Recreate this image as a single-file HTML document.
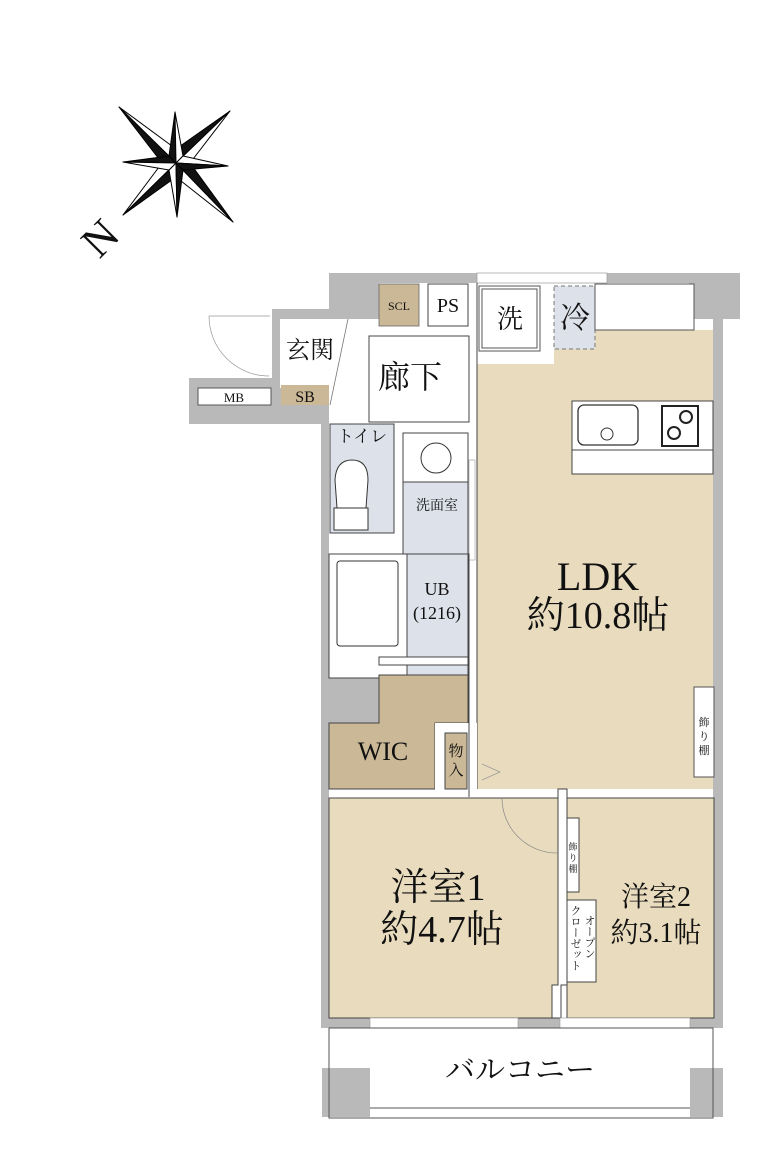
<!DOCTYPE html>
<html><head><meta charset="utf-8"><style>
html,body{margin:0;padding:0;background:#fff}
svg{display:block}
text{font-family:"Liberation Serif","Noto Serif CJK SC",serif;fill:#111}
</style></head><body>
<svg width="770" height="1167" viewBox="0 0 770 1167" xmlns="http://www.w3.org/2000/svg">
<!-- compass -->
<g stroke="#000" stroke-width="1" stroke-linejoin="round">
<polygon points="176,163 119,107 176,149" fill="#fff"/><polygon points="176,163 119,107 162,163" fill="#111"/>
<polygon points="176,163 230,111 176,149" fill="#111"/><polygon points="176,163 230,111 190,163" fill="#fff"/>
<polygon points="176,163 123,215 162,163" fill="#fff"/><polygon points="176,163 123,215 176,177" fill="#111"/>
<polygon points="176,163 233,222 190,163" fill="#111"/><polygon points="176,163 233,222 176,177" fill="#fff"/>
<polygon points="176,163 175,112 169,156" fill="#111"/><polygon points="176,163 175,112 183,156" fill="#fff"/>
<polygon points="176,163 177,217 169,170" fill="#fff"/><polygon points="176,163 177,217 183,170" fill="#111"/>
<polygon points="176,163 123,162 169,156" fill="#111"/><polygon points="176,163 123,162 169,170" fill="#fff"/>
<polygon points="176,163 228,166 183,156" fill="#fff"/><polygon points="176,163 228,166 183,170" fill="#111"/>
</g>
<text x="102" y="252" font-size="44" transform="rotate(-45 102 240)" text-anchor="middle">N</text>

<!-- walls gray -->
<g fill="#b9b9b9">
<rect x="329" y="273" width="411" height="10"/>
<rect x="689" y="273" width="51" height="46"/>
<rect x="713" y="273" width="10" height="755"/>
<rect x="272" y="309" width="57" height="10"/>
<rect x="272" y="309" width="8" height="80"/>
<rect x="189" y="378" width="91" height="46"/>
<rect x="280" y="388" width="49" height="36"/>
<rect x="321" y="388" width="8" height="640"/>
<rect x="322" y="655" width="57" height="68"/>
<rect x="322" y="1018" width="401" height="10"/>
<rect x="322" y="1068" width="48" height="49"/>
<rect x="690" y="1068" width="33" height="49"/>
<rect x="329" y="283" width="50" height="36"/>
</g>
<!-- LDK floor -->
<rect x="477" y="330" width="236" height="459" fill="#e9dcbe"/>
<polygon points="477,283 595,283 595,349 554,349 554,364 477,364" fill="#fff"/>
<!-- top window -->
<rect x="477" y="273" width="130" height="10" fill="#fff" stroke="#999" stroke-width="0.7"/>
<!-- entrance floor -->
<rect x="280" y="319" width="68" height="69" fill="#fff"/>
<path d="M209,316 A60,60 0 0,0 269,376" fill="none" stroke="#999" stroke-width="0.7"/>
<line x1="209" y1="316" x2="270" y2="316" stroke="#999" stroke-width="0.7"/>
<rect x="198" y="388" width="73" height="17" fill="#fff" stroke="#555"/>
<text x="234" y="402" font-size="13" text-anchor="middle">MB</text>
<rect x="281" y="385" width="48" height="20" fill="#cbb896"/>
<text x="305" y="402" font-size="16" text-anchor="middle">SB</text>
<text x="310" y="358" font-size="24" text-anchor="middle">玄関</text>
<line x1="348" y1="319" x2="330" y2="405" stroke="#777" stroke-width="0.8"/>

<!-- SCL PS -->
<rect x="379" y="284" width="40" height="42" fill="#cbb896" stroke="#666" stroke-width="0.8"/>
<text x="399" y="310" font-size="12" text-anchor="middle">SCL</text>
<rect x="428" y="284" width="40" height="42" fill="#fff" stroke="#444"/>
<text x="448" y="312" font-size="20" text-anchor="middle">PS</text>
<!-- hallway -->
<rect x="369" y="336" width="100" height="86" fill="#fff" stroke="#444"/>
<text x="410" y="388" font-size="32" text-anchor="middle">廊下</text>
<!-- 洗 -->
<rect x="479" y="286" width="61" height="65" fill="#fff" stroke="#555"/>
<rect x="482" y="289" width="55" height="59" fill="#fff" stroke="#555"/>
<text x="510" y="328" font-size="26" text-anchor="middle">洗</text>
<rect x="554" y="286" width="41" height="63" fill="#dde1ea" stroke="#777" stroke-dasharray="4,3"/>
<text x="575" y="328" font-size="30" text-anchor="middle">冷</text>
<rect x="595" y="284" width="99" height="46" fill="#fff" stroke="#555"/>
<line x1="477" y1="283" x2="477" y2="789" stroke="#444"/>
<rect x="572" y="401" width="141" height="73" fill="#fff" stroke="#444"/>
<line x1="572" y1="450" x2="713" y2="450" stroke="#444"/>
<rect x="578" y="405" width="60" height="40" rx="6" fill="#fff" stroke="#333" stroke-width="1.3"/>
<circle cx="607" cy="434" r="6" fill="#fff" stroke="#333"/>
<rect x="662" y="406" width="36" height="40" fill="#fff" stroke="#222" stroke-width="2"/>
<circle cx="686" cy="417" r="6" fill="none" stroke="#222" stroke-width="2"/><circle cx="674" cy="433" r="6" fill="none" stroke="#222" stroke-width="2"/>
<text x="598" y="590" font-size="40" text-anchor="middle">LDK</text>
<text x="598" y="628" font-size="38" text-anchor="middle">約10.8帖</text>
<rect x="694" y="687" width="20" height="90" fill="#fff" stroke="#555"/>
<text x="704" y="726" font-size="11" text-anchor="middle">飾</text><text x="704" y="740" font-size="11" text-anchor="middle">り</text><text x="704" y="754" font-size="11" text-anchor="middle">棚</text>
<polyline points="482,764 500,772 482,780" fill="none" stroke="#999" stroke-width="0.7"/>
<!-- toilet -->
<rect x="330" y="424" width="64" height="109" fill="#dde1ea" stroke="#444"/>
<text x="362" y="442" font-size="17" text-anchor="middle">トイレ</text>
<path d="M337,508 L335,480 Q336,460 352,460 Q368,460 368,480 L366,508 Z" fill="#fff" stroke="#333"/>
<rect x="334" y="508" width="34" height="22" fill="#fff" stroke="#333"/>
<!-- washroom -->
<rect x="403" y="433" width="65" height="131" fill="#dde1ea" stroke="#444"/>
<rect x="403" y="433" width="65" height="49" fill="#fff" stroke="#444"/>
<circle cx="436" cy="458" r="15" fill="#fff" stroke="#333"/>
<text x="437" y="510" font-size="14" text-anchor="middle">洗面室</text>
<rect x="469" y="460" width="6" height="100" fill="#fff" stroke="#999" stroke-width="0.6"/>
<!-- bath -->
<rect x="329" y="554" width="140" height="124" fill="#fff" stroke="#444"/>
<rect x="337" y="561" width="61" height="85" rx="3" fill="#fff" stroke="#333"/>
<rect x="407" y="554" width="61" height="124" fill="#dde1ea" stroke="#444"/>
<text x="437" y="595" font-size="18" text-anchor="middle">UB</text>
<text x="437" y="619" font-size="18" text-anchor="middle">(1216)</text>
<rect x="379" y="657" width="89" height="8" fill="#fff" stroke="#444"/>
<!-- WIC -->
<polygon points="379,675 468,675 468,723 435,723 435,789 329,789 329,723 379,723" fill="#cbb896" stroke="#444"/>
<rect x="435" y="723" width="42" height="74" fill="#fff"/>
<rect x="445" y="733" width="22" height="56" fill="#cbb896" stroke="#444"/>
<text x="456" y="756" font-size="15" text-anchor="middle">物</text><text x="456" y="775" font-size="15" text-anchor="middle">入</text>
<text x="383" y="760" font-size="26" text-anchor="middle">WIC</text>
<line x1="469" y1="675" x2="469" y2="797" stroke="#444"/>
<!-- rooms -->
<rect x="329" y="798" width="229" height="220" fill="#e9dcbe" stroke="#444"/>
<rect x="567" y="798" width="147" height="220" fill="#e9dcbe" stroke="#444"/>
<polygon points="558,789 567,789 567,985 561,985 561,1018 552,1018 552,985 558,985" fill="#fff" stroke="#444"/>
<path d="M502,798 A55,55 0 0,0 557,853" fill="none" stroke="#888" stroke-width="0.7"/>
<rect x="567" y="818" width="12" height="74" fill="#fff" stroke="#444"/>
<text x="573" y="850" font-size="9" text-anchor="middle">飾</text><text x="573" y="861" font-size="9" text-anchor="middle">り</text><text x="573" y="872" font-size="9" text-anchor="middle">棚</text>
<rect x="567" y="900" width="29" height="82" fill="#fff" stroke="#444"/>
<text x="589" y="915" font-size="11" writing-mode="tb">オープン</text>
<text x="575" y="905" font-size="11" writing-mode="tb">クローゼット</text>
<text x="438" y="900" font-size="38" text-anchor="middle">洋室1</text>
<text x="442" y="942" font-size="38" text-anchor="middle">約4.7帖</text>
<text x="656" y="906" font-size="28" text-anchor="middle">洋室2</text>
<text x="656" y="942" font-size="28" text-anchor="middle">約3.1帖</text>
<!-- bottom windows -->
<rect x="370" y="1018" width="148" height="10" fill="#fff" stroke="#999" stroke-width="0.6"/>
<rect x="560" y="1018" width="130" height="10" fill="#fff" stroke="#999" stroke-width="0.6"/>
<!-- balcony -->
<rect x="329" y="1028" width="384" height="90" fill="none" stroke="#555"/>
<line x1="370" y1="1108" x2="690" y2="1108" stroke="#555"/>
<text x="520" y="1080" font-size="30" text-anchor="middle">バルコニー</text>
</svg>
</body></html>
